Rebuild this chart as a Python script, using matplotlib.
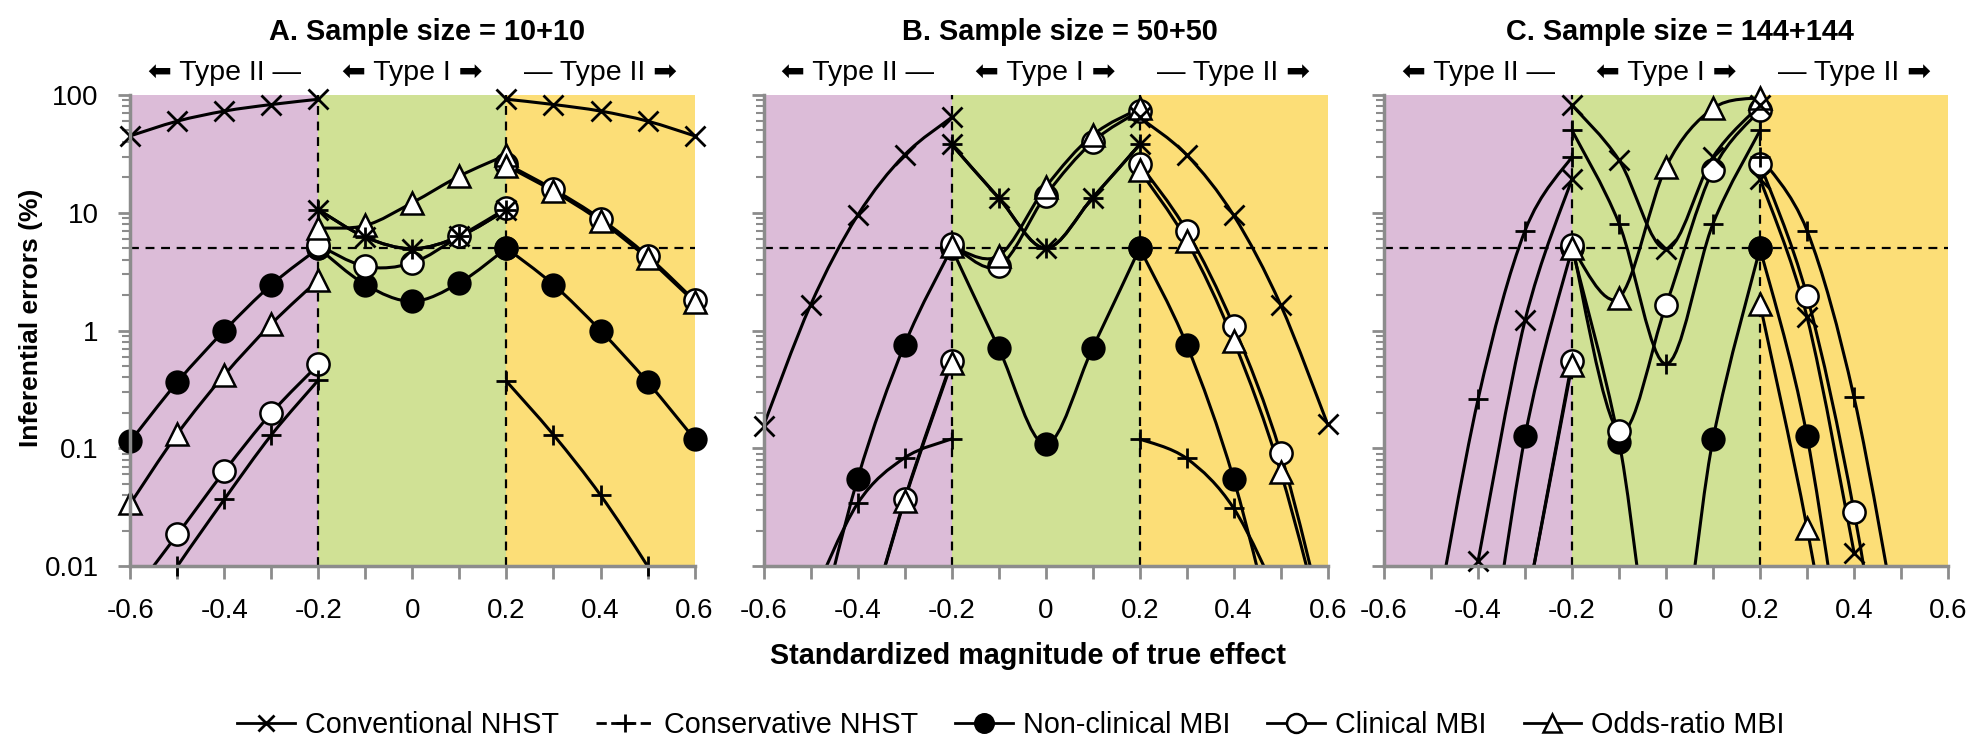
import numpy as np
import matplotlib
matplotlib.use('Agg')
import matplotlib.pyplot as plt
from matplotlib.path import Path
from matplotlib.patches import PathPatch
from matplotlib.lines import Line2D
from matplotlib.ticker import FixedLocator, LogLocator, NullFormatter

plt.rcParams['font.family'] = ['Liberation Sans', 'DejaVu Sans']
plt.rcParams['axes.unicode_minus'] = False

# effect sizes of the three segments (type II left, type I middle, type II right)
X_LEFT = [-0.6, -0.5, -0.4, -0.3, -0.2]
X_MID = [-0.2, -0.1, 0.0, 0.1, 0.2]
X_RIGHT = [0.2, 0.3, 0.4, 0.5, 0.6]
N = None

# error rates (%), 15 values each: left 5 | middle 5 | right 5
a_conv = [45, 60, 73, 83, 92, 10.6, 6.2, 4.95, 6.3, 10.6, 92, 83, 73, 60, 45]
a_cons = [0.0025, 0.01, 0.037, 0.13, 0.38, 10.6, 6.2, 4.95, 6.3, 10.6, 0.37, 0.13, 0.04, 0.01, 0.0022]
a_nonc = [0.115, 0.366, 1.0, 2.45, 5.0, 5.0, 2.45, 1.77, 2.54, 5.0, 5.0, 2.45, 1.0, 0.366, 0.12]
a_clin = [0.0055, 0.0186, 0.064, 0.2, 0.515, 5.3, 3.5, 3.76, 6.3, 10.9, 26, 15.8, 8.9, 4.3, 1.8]
a_odds = [0.034, 0.133, 0.42, 1.14, 2.7, 7.4, 7.8, 12.2, 20.5, 31, 25, 15.2, 8.5, 4.1, 1.75]

b_conv = [0.156, 1.65, 9.5, 31, 64.5, 38, 13.4, 5.0, 13.4, 38, 64.5, 31, 9.5, 1.65, 0.16]
b_cons = [N, 0.005, 0.034, 0.083, 0.12, 38, 13.4, 5.0, 13.4, 38, 0.12, 0.082, 0.031, 0.005, N]
b_nonc = [N, 0.0015, 0.055, 0.76, 5.0, 5.0, 0.71, 0.108, 0.71, 5.0, 5.0, 0.76, 0.055, 0.0015, N]
b_clin = [N, N, 0.0015, 0.037, 0.55, 5.4, 3.5, 14, 40, 73.5, 26, 7.05, 1.09, 0.091, 0.0025]
b_odds = [N, N, 0.0015, 0.036, 0.53, 5.2, 4.3, 16.5, 45.6, 77, 22.9, 5.8, 0.82, 0.063, 0.002]

c_conv = [N, N, 0.011, 1.22, 19.5, 82, 28, 4.9, 29.8, 82, 19.5, 1.3, 0.013, N, N]
c_cons = [N, 0.002, 0.26, 7.05, 30, 50, 8.1, 0.52, 8.1, 50, 30, 7.05, 0.27, 0.002, N]
c_nonc = [N, N, 0.0003, 0.126, 5.0, 5.0, 0.114, 0.0005, 0.12, 5.0, 5.0, 0.126, 0.0003, N, N]
c_clin = [N, N, N, 0.004, 0.55, 5.3, 0.139, 1.65, 23.2, 74.5, 26, 1.96, 0.029, 0.0001, N]
c_odds = [N, N, N, 0.004, 0.51, 5.0, 1.9, 24.5, 77, 95, 1.67, 0.021, 0.0001, N, N]

titles = ['A. Sample size = 10+10', 'B. Sample size = 50+50', 'C. Sample size = 144+144']
labels = ['Conventional NHST', 'Conservative NHST', 'Non-clinical MBI', 'Clinical MBI', 'Odds-ratio MBI']
panels = [[a_conv, a_cons, a_nonc, a_clin, a_odds],
          [b_conv, b_cons, b_nonc, b_clin, b_odds],
          [c_conv, c_cons, c_nonc, c_clin, c_odds]]

styles = [dict(marker='x', ms=14, mew=2, color='k'),
          dict(marker='+', ms=15, mew=2, color='k'),
          dict(marker='o', ms=16, mfc='k', mec='k', mew=1.5, color='k'),
          dict(marker='o', ms=16, mfc='white', mec='k', mew=1.8, color='k'),
          dict(marker='^', ms=16, mfc='white', mec='k', mew=1.8, color='k')]
zorders = [7, 8, 4, 5, 6]

PURPLE, GREEN, YELLOW = '#dcbcd8', '#d0e195', '#fcde77'
GREY = '#8c8c8c'


def smooth(ax, xs, ys, z):
    # Excel-like smoothed line through the points (bezier in x / log y)
    p = np.array([(x, np.log10(y)) for x, y in zip(xs, ys) if y is not None])
    if len(p) < 2:
        return
    n = len(p)
    verts, codes = [p[0]], [Path.MOVETO]
    for i in range(n - 1):
        p0 = p[i - 1] if i > 0 else p[i]
        p3 = p[i + 2] if i + 2 < n else p[i + 1]
        verts += [p[i] + (p[i + 1] - p0) / 6, p[i + 1] - (p3 - p[i]) / 6, p[i + 1]]
        codes += [Path.CURVE4] * 3
    v = np.array(verts)
    v[:, 1] = 10 ** v[:, 1]
    ax.add_patch(PathPatch(Path(v, codes), fill=False, ec='k', lw=2.2, zorder=z - 3))


fig = plt.figure(figsize=(19.86, 7.52), dpi=100)
lefts = [0.0657, 0.3845, 0.6969]

for k, (left, title, series) in enumerate(zip(lefts, titles, panels)):
    ax = fig.add_axes([left, 0.2473, 0.2840, 0.6264])
    ax.set_yscale('log')
    ax.axvspan(-0.6, -0.2, color=PURPLE, lw=0, zorder=0)
    ax.axvspan(-0.2, 0.2, color=GREEN, lw=0, zorder=0)
    ax.axvspan(0.2, 0.6, color=YELLOW, lw=0, zorder=0)
    ax.axhline(5, color='k', lw=1.6, ls=(0, (4, 3)), zorder=1)
    for xv in (-0.2, 0.2):
        ax.axvline(xv, color='k', lw=1.6, ls=(0, (4, 3)), zorder=1)

    for vals, st, z in zip(series, styles, zorders):
        for xs, ys in ((X_LEFT, vals[0:5]), (X_MID, vals[5:10]), (X_RIGHT, vals[10:15])):
            smooth(ax, xs, ys, z)
            mx = [x for x, y in zip(xs, ys) if y is not None and y >= 0.0095]
            my = [y for y in ys if y is not None and y >= 0.0095]
            ax.plot(mx, my, ls='none', clip_on=False, zorder=z, **st)

    ax.set_xlim(-0.6, 0.6)
    ax.set_ylim(0.01, 100)
    for s in ('top', 'right'):
        ax.spines[s].set_visible(False)
    for s in ('left', 'bottom'):
        ax.spines[s].set_color(GREY)
        ax.spines[s].set_linewidth(2.5)
        ax.spines[s].set_zorder(9)
    ax.set_xticks([-0.6, -0.4, -0.2, 0, 0.2, 0.4, 0.6])
    ax.set_xticklabels(['-0.6', '-0.4', '-0.2', '0', '0.2', '0.4', '0.6'])
    ax.xaxis.set_minor_locator(FixedLocator([-0.5, -0.3, -0.1, 0.1, 0.3, 0.5]))
    ax.set_yticks([0.01, 0.1, 1, 10, 100])
    ax.yaxis.set_minor_locator(LogLocator(base=10, subs=range(2, 10)))
    ax.yaxis.set_minor_formatter(NullFormatter())
    if k == 0:
        ax.set_yticklabels(['0.01', '0.1', '1', '10', '100'])
    else:
        ax.set_yticklabels([])
    ax.tick_params(axis='x', which='both', direction='out', length=9, width=2,
                   color=GREY, labelsize=20, pad=14)
    ax.tick_params(axis='y', which='major', direction='out', length=9, width=2,
                   color=GREY, labelsize=20, pad=14)
    ax.tick_params(axis='y', which='minor', direction='out', length=6, width=1.5, color=GREY)

    tr = ax.get_xaxis_transform()
    ax.text(0.03, 1.133, title, transform=tr, ha='center', va='center',
            fontsize=20.8, fontweight='bold')
    ax.text(-0.4, 1.047, '\u2b05 Type II \u2014', transform=tr, ha='center', va='center', fontsize=20.5)
    ax.text(0.0, 1.047, '\u2b05 Type I \u27a1', transform=tr, ha='center', va='center', fontsize=20.5)
    ax.text(0.4, 1.047, '\u2014 Type II \u27a1', transform=tr, ha='center', va='center', fontsize=20.5)

fig.text(0.0156, 0.578, 'Inferential errors (%)', rotation=90, ha='center', va='center',
         fontsize=19, fontweight='bold')
fig.text(0.5176, 0.127, 'Standardized magnitude of true effect', ha='center', va='center',
         fontsize=20.7, fontweight='bold')

handles = []
for st, lab, ls in zip(styles, labels, ['-', '--', '-', '-', '-']):
    h = dict(st)
    h['ms'] = h['ms'] * 0.85
    handles.append(Line2D([], [], ls=ls, lw=2, label=lab, **h))
fig.legend(handles=handles, loc='center', bbox_to_anchor=(0.509, 0.036), ncol=5,
           frameon=False, fontsize=20.7, handlelength=2.0, handletextpad=0.35,
           columnspacing=1.3)

fig.savefig('out.png', dpi=100)
